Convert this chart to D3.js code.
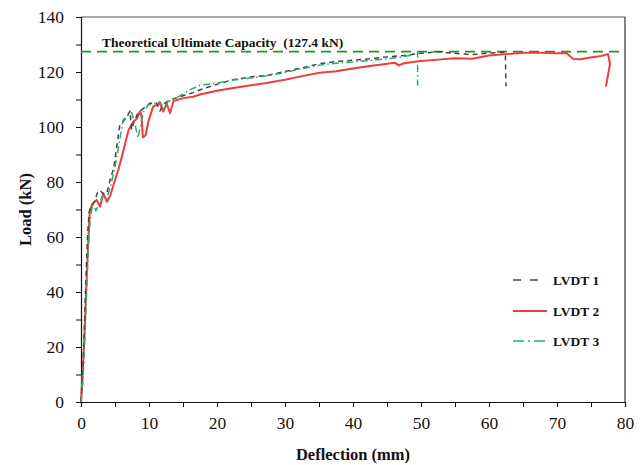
<!DOCTYPE html>
<html><head><meta charset="utf-8">
<script src="https://cdn.jsdelivr.net/npm/d3@7"></script>
<style>body{margin:0;background:#fff;} svg{display:block;} svg text{font-family:"Liberation Serif","Times New Roman",Times,serif !important;}</style>
</head><body><svg id="c" width="644" height="465"></svg>
<script>
const seriesNames = ["LVDT 1", "LVDT 2", "LVDT 3"];
const lvdt1 = [[0,0],[0.2,8],[0.4,20],[0.6,35],[0.8,50],[1.0,62],[1.2,69],[1.5,71.5],[2.0,73],[2.4,76],[2.8,77],[3.3,75.5],[3.8,76],[4.3,81],[4.8,85],[5.2,92],[5.7,100.5],[6.2,102],[6.7,103.5],[7.2,105.8],[7.45,99],[7.8,102],[8.4,105.2],[9.2,106.8],[10.1,108.6],[11.1,108.8],[11.6,105.8],[12.2,108.5],[13.1,109.8],[14.5,111],[16.5,112.5],[18,114],[20,115.5],[22.5,117.3],[25,118.2],[27.5,118.8],[30,120.2],[32.5,121.5],[35,123],[37.5,123.8],[40,124.3],[42.5,124.8],[45,125.5],[47.5,126],[50,126.8],[52.5,127.4],[55,126.8],[57.5,126.3],[60,126.9],[62.4,127.2],[62.5,114.8]];
const lvdt2 = [[0,0],[0.34,15],[0.6,30],[0.84,45.6],[1.1,60],[1.3,69.8],[1.7,72],[2.3,73.5],[2.8,71],[3.3,75.9],[3.8,72.8],[4.3,75],[5,80.7],[5.5,84.5],[6,89.2],[6.5,94],[7,98.9],[7.7,101.9],[8.2,103],[8.7,105.8],[8.9,104],[9.1,96.2],[9.5,97],[9.9,101.9],[10.6,107.4],[11.6,108.6],[12.1,105.6],[12.6,108.6],[13.1,105],[13.6,109.4],[15,110.5],[16.5,111],[17.5,111.8],[20,113.2],[22.4,114.2],[25,115.2],[27.3,116],[30,117.2],[32.5,118.5],[35.1,119.7],[37.5,120.3],[40,121.3],[42.5,122.2],[44.5,122.8],[46.2,123.4],[46.7,122.4],[47.5,123.2],[50,124],[52.5,124.5],[55,125],[57.5,124.8],[60,126],[62.5,126.5],[65,127],[67.5,127],[70,126.8],[71.4,126.8],[72.4,124.7],[73.5,124.6],[74.9,125.3],[76.5,125.8],[77.5,126.5],[77.8,123],[77.2,114.7]];
const lvdt3 = [[0,0],[0.3,8],[0.6,25],[0.9,45],[1.2,62],[1.5,69],[1.8,72],[2.2,69.5],[2.7,72.5],[3.3,75.3],[3.8,74],[4.4,79],[5,85.6],[5.6,94],[6.2,102.5],[6.8,104],[7.45,105.2],[7.9,101.3],[8.4,96],[8.8,101],[9.2,105.6],[9.9,108],[10.9,108.6],[11.6,109.2],[12.2,106.5],[12.8,109.3],[14,110.5],[16,113.5],[17.5,115.2],[20,116],[22.4,117.1],[25,117.8],[27.3,118.6],[30,119.8],[32.5,121.2],[35.1,122.5],[37.5,123.2],[40,123.6],[42.5,124.2],[45,124.8],[47.5,125.6],[49.4,126.6],[49.5,127.4],[49.5,115]];
const theoretical = 127.4;
const xTicks = [0,10,20,30,40,50,60,70,80];
const yTicks = [0,20,40,60,80,100,120,140];
const xMinor = [5,15,25,35,45,55,65,75];
const yMinor = [10,30,50,70,90,110,130];

const svg = d3.select("#c");
const L = 81, R = 625, T = 17, B = 402;
const x = d3.scaleLinear().domain([0,80]).range([L,R]);
const y = d3.scaleLinear().domain([0,140]).range([B,T]);

// frame
svg.append("line").attr("x1",L).attr("x2",R).attr("y1",T).attr("y2",T).attr("stroke","#555").attr("stroke-width",1.2);
svg.append("line").attr("x1",R).attr("x2",R).attr("y1",T).attr("y2",B).attr("stroke","#333").attr("stroke-width",1.2);

svg.append("g").attr("transform",`translate(0,${B})`).call(d3.axisBottom(x).tickValues(xTicks).tickSize(5).tickPadding(10).tickFormat(d3.format("d")));
svg.append("g").attr("transform",`translate(0,${B})`).call(d3.axisBottom(x).tickValues(xMinor).tickSize(5).tickFormat("")).select(".domain").remove();
svg.append("g").attr("transform",`translate(${L},0)`).call(d3.axisLeft(y).tickValues(yTicks).tickSize(5).tickPadding(12).tickFormat(d3.format("d")));
svg.append("g").attr("transform",`translate(${L},0)`).call(d3.axisLeft(y).tickValues(yMinor).tickSize(5).tickFormat("")).select(".domain").remove();
svg.selectAll(".tick text").attr("font-size",17.5).attr("fill","#111");
svg.selectAll(".domain").attr("stroke","#111").attr("stroke-width",1.2);
svg.selectAll(".tick line").attr("stroke","#111");

// titles
svg.append("text").attr("x",(L+R)/2).attr("y",460).attr("text-anchor","middle").attr("font-size",16.5).attr("font-weight","bold").attr("fill","#111").text("Deflection (mm)");
svg.append("text").attr("transform",`translate(31,${(T+B)/2}) rotate(-90)`).attr("text-anchor","middle").attr("font-size",16.5).attr("font-weight","bold").attr("fill","#111").text("Load (kN)");

// theoretical line
svg.append("line").attr("x1",x(0)).attr("x2",x(80)).attr("y1",y(theoretical)).attr("y2",y(theoretical))
  .attr("stroke","#1a9a1a").attr("stroke-width",1.6).attr("stroke-dasharray","10,6");
svg.append("text").attr("x",102).attr("y",46.5).attr("font-size",13.5).attr("font-weight","bold").attr("fill","#111").attr("xml:space","preserve").text("Theoretical Ultimate Capacity  (127.4 kN)");

const line = d3.line().x(d=>x(d[0])).y(d=>y(d[1]));
const styles = [
  {data:lvdt2, color:"#f03c3c", w:2, dash:null},
  {data:lvdt1, color:"#444", w:1.5, dash:"5,4"},
  {data:lvdt3, color:"#2eaa66", w:1.5, dash:"7,3,1.5,3"}
];
styles.forEach(s=>{
  svg.append("path").datum(s.data).attr("d",line).attr("fill","none").attr("stroke",s.color)
    .attr("stroke-width",s.w).attr("stroke-dasharray",s.dash).attr("stroke-linejoin","round");
});

// legend
const leg = [
  {name:seriesNames[0], color:"#444", w:1.5, dash:"8,9", x2:547, y:280},
  {name:seriesNames[1], color:"#f03c3c", w:2, dash:null, x2:547, y:311},
  {name:seriesNames[2], color:"#2eaa66", w:1.5, dash:"11,4,2,4,11", x2:545, y:341}
];
leg.forEach(l=>{
  svg.append("line").attr("x1",513).attr("x2",l.x2).attr("y1",l.y).attr("y2",l.y).attr("stroke",l.color).attr("stroke-width",l.w).attr("stroke-dasharray",l.dash);
  svg.append("text").attr("x",553).attr("y",l.y+4.5).attr("font-size",13.5).attr("font-weight","bold").attr("fill","#111").text(l.name);
});
</script></body></html>
